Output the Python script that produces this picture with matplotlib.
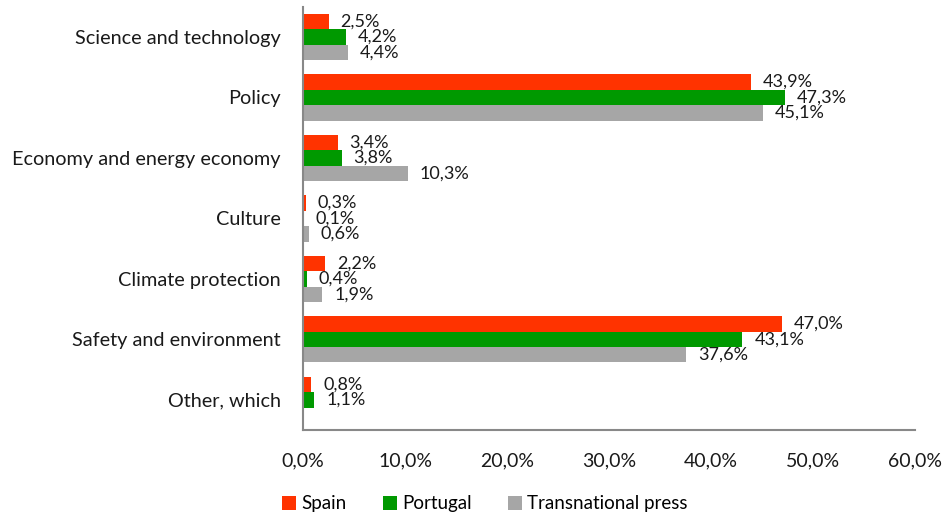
import matplotlib
matplotlib.use("Agg")
import matplotlib.pyplot as plt
import numpy as np

plt.rcParams['font.family'] = ['Lato', 'DejaVu Sans']

categories = ["Science and technology", "Policy", "Economy and energy economy",
              "Culture", "Climate protection", "Safety and environment", "Other, which"]
spain = [2.5, 43.9, 3.4, 0.3, 2.2, 47.0, 0.8]
portugal = [4.2, 47.3, 3.8, 0.1, 0.4, 43.1, 1.1]
transnational = [4.4, 45.1, 10.3, 0.6, 1.9, 37.6, None]
series_names = ["Spain", "Portugal", "Transnational press"]
colors = ["#FF3300", "#009900", "#A6A6A6"]
xticks = [0, 10, 20, 30, 40, 50, 60]

fig = plt.figure(figsize=(9.47, 5.2), dpi=100)
ax = fig.add_axes([0.32, 0.173, 0.646, 0.814])

y = np.arange(len(categories))
h = 0.255
offsets = [-h, 0, h]
for vals, name, col, off in zip([spain, portugal, transnational], series_names, colors, offsets):
    v = [0 if x is None else x for x in vals]
    ax.barh(y + off, v, height=h, color=col, label=name)
    for yi, x in zip(y, vals):
        if x is None:
            continue
        ax.annotate(f"{x:.1f}%".replace(".", ","), xy=(x, yi + off), xytext=(8.5, 0),
                    textcoords="offset points", va="center", ha="left",
                    fontsize=13, color="#1a1a1a")

ax.set_ylim(len(categories) - 0.5, -0.5)
ax.set_xlim(0, 60)
ax.set_yticks(y)
ax.set_yticklabels(categories, fontsize=14.3, color="#1a1a1a")
ax.set_xticks(xticks)
ax.set_xticklabels([f"{t:.1f}%".replace(".", ",") for t in xticks], fontsize=14, color="#1a1a1a")
ax.tick_params(axis='both', length=0)
ax.tick_params(axis='y', pad=16)
ax.tick_params(axis='x', pad=16)
for s in ["top", "right"]:
    ax.spines[s].set_visible(False)
for s in ["left", "bottom"]:
    ax.spines[s].set_color("#888888")
    ax.spines[s].set_linewidth(1.5)

fig.legend(loc="lower center", bbox_to_anchor=(0.512, -0.018), ncol=3, frameon=False,
           fontsize=13.5, handlelength=0.75, handleheight=0.75, handletextpad=0.3,
           columnspacing=1.9)

fig.savefig("out.png", dpi=100)
